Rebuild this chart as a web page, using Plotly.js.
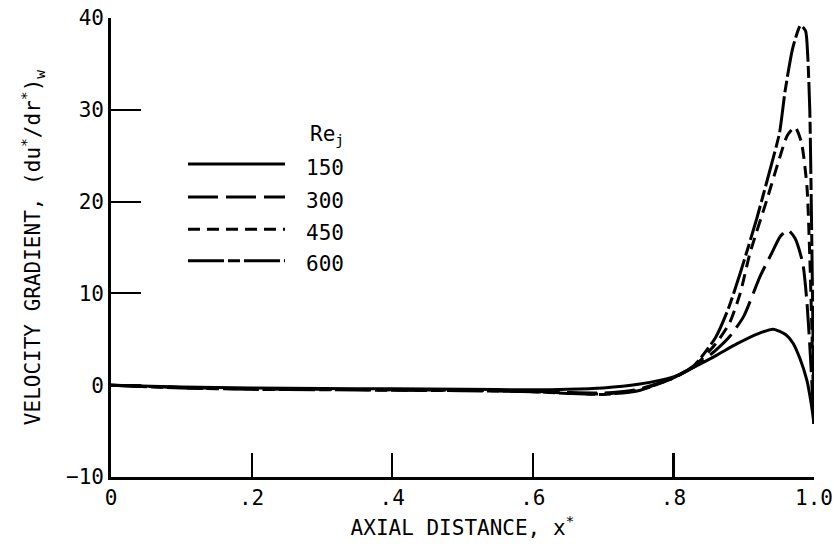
<!DOCTYPE html>
<html>
<head>
<meta charset="utf-8">
<script src="https://cdn.plot.ly/plotly-3.0.1.min.js"></script>
<style>html,body{margin:0;padding:0;background:#fff;}#chart{width:837px;height:552px;}</style>
</head>
<body>
<div id="chart"></div>
<script>
// Reynolds numbers (legend labels)
const reLabels = ["150", "300", "450", "600"];

// Axial distance x* and wall velocity gradient for each Re_j
const x150 = [0, 0.1, 0.2, 0.3, 0.4, 0.5, 0.6, 0.65, 0.7, 0.75, 0.8, 0.83, 0.86, 0.89, 0.92, 0.942, 0.96, 0.97, 0.98, 0.99, 0.996, 1.0];
const y150 = [0, -0.2, -0.3, -0.35, -0.4, -0.45, -0.5, -0.45, -0.3, 0.1, 0.9, 2.0, 3.2, 4.5, 5.6, 6.1, 5.5, 4.6, 2.9, 0.5, -2.0, -4.2];

const x300 = [0, 0.1, 0.2, 0.3, 0.4, 0.5, 0.6, 0.65, 0.7, 0.75, 0.8, 0.83, 0.86, 0.88, 0.9, 0.923, 0.94, 0.952, 0.963, 0.973, 0.984, 0.99, 0.995, 1.0];
const y300 = [0, -0.25, -0.4, -0.45, -0.5, -0.55, -0.65, -0.8, -0.85, -0.45, 0.8, 2.0, 3.8, 5.3, 7.5, 11.8, 14.4, 16.2, 16.9, 16.0, 13.3, 9.0, 3.0, -4.2];

const x450 = [0, 0.1, 0.2, 0.3, 0.4, 0.5, 0.6, 0.65, 0.7, 0.75, 0.8, 0.83, 0.86, 0.88, 0.895, 0.909, 0.933, 0.95, 0.962, 0.973, 0.982, 0.99, 0.994, 0.997, 1.0];
const y450 = [0, -0.25, -0.4, -0.45, -0.5, -0.55, -0.7, -0.85, -0.95, -0.55, 0.8, 2.1, 4.5, 6.8, 10.0, 14.4, 20.2, 24.5, 27.2, 28.1, 26.5, 21.6, 14.0, 6.0, -4.2];

const x600 = [0, 0.1, 0.2, 0.3, 0.4, 0.5, 0.6, 0.65, 0.7, 0.75, 0.8, 0.83, 0.86, 0.878, 0.895, 0.918, 0.94, 0.951, 0.959, 0.97, 0.981, 0.988, 0.991, 0.994, 0.997, 1.0];
const y600 = [0, -0.3, -0.45, -0.5, -0.55, -0.6, -0.7, -0.9, -1.0, -0.6, 0.8, 2.2, 5.2, 8.3, 12.2, 18.0, 24.2, 27.5, 32.1, 36.8, 39.2, 38.6, 36.0, 30.0, 15.0, -4.2];

// Axis ticks
const xTickVals = [0, 0.2, 0.4, 0.6, 0.8, 1.0];
const xTickText = ["0", ".2", ".4", ".6", ".8", "1.0"];
const yTickVals = [-10, 0, 10, 20, 30, 40];
const yTickText = ["\u221210", "0", "10", "20", "30", "40"];

const FONT = "DejaVu Sans Mono, monospace";
const FS = 21;
const dashes = ["solid", "30px,8px", "12px,7px", "36px,4px,12px,4px"];
const xs = [x150, x300, x450, x600];
const ys = [y150, y300, y450, y600];

const traces = xs.map((xv, i) => ({
  x: xv, y: ys[i], type: "scatter", mode: "lines", name: reLabels[i],
  line: {color: "#000", width: 3, dash: dashes[i], shape: "spline", smoothing: 0.6},
  showlegend: false, hoverinfo: "skip"
}));

// Legend (drawn manually, paper coords)
const legY = [0.682, 0.610, 0.540, 0.471];
const shapes = legY.map((yy, i) => ({
  type: "line", xref: "paper", yref: "paper",
  x0: 0.1095, x1: 0.2475, y0: yy, y1: yy,
  line: {color: "#000", width: 3, dash: dashes[i]}
}));
const annotations = legY.map((yy, i) => ({
  xref: "paper", yref: "paper", x: 0.275, y: yy - 0.008, xanchor: "left", yanchor: "middle",
  text: reLabels[i], showarrow: false, font: {family: FONT, size: FS, color: "#000"}
}));
annotations.push({
  xref: "paper", yref: "paper", x: 0.28, y: 0.745, xanchor: "left", yanchor: "middle",
  text: "Re<sub>j</sub>", showarrow: false, font: {family: FONT, size: FS, color: "#000"}
});

const layout = {
  width: 837, height: 552,
  margin: {l: 111, r: 23, t: 18, b: 75},
  paper_bgcolor: "#fff", plot_bgcolor: "#fff",
  font: {family: FONT, size: FS, color: "#000"},
  xaxis: {
    range: [0, 1.0], tickvals: xTickVals, ticktext: xTickText,
    ticks: "inside", ticklen: 24, tickwidth: 2.2, tickcolor: "#000",
    showline: true, linewidth: 2.8, linecolor: "#000", mirror: false,
    showgrid: false, zeroline: false,
    tickfont: {family: FONT, size: FS},
    title: {text: "AXIAL DISTANCE, x<sup>*</sup>", font: {family: FONT, size: FS}, standoff: 12}
  },
  yaxis: {
    range: [-10, 40], tickvals: yTickVals, ticktext: yTickText,
    ticks: "inside", ticklen: 30, tickwidth: 2.2, tickcolor: "#000",
    showline: true, linewidth: 2.8, linecolor: "#000", mirror: false,
    showgrid: false, zeroline: false,
    tickfont: {family: FONT, size: FS},
    title: {text: "VELOCITY GRADIENT, (du<sup>*</sup>/dr<sup>*</sup>)<sub>w</sub>", font: {family: FONT, size: FS}, standoff: 20}
  },
  shapes: shapes, annotations: annotations
};

Plotly.newPlot("chart", traces, layout, {staticPlot: true});
</script>
</body>
</html>
